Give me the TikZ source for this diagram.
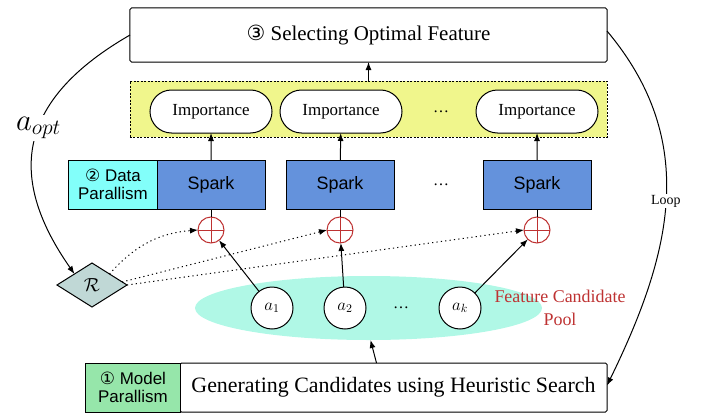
\documentclass[tikz,border=0pt]{standalone}
\usepackage{fix-cm}
\usepackage{fontspec}
\setmainfont{Liberation Serif}
\setsansfont{Liberation Sans}
\newfontfamily\circfont{DejaVu Sans}
\usetikzlibrary{arrows.meta}
\usetikzlibrary{positioning}
\usetikzlibrary{shapes.geometric}
\usetikzlibrary{shapes.misc}
\definecolor{yellowbg}{RGB}{240,246,140}
\definecolor{databg}{RGB}{130,255,250}
\definecolor{modelbg}{RGB}{150,230,170}
\definecolor{sparkbg}{RGB}{100,146,220}
\definecolor{poolbg}{RGB}{176,248,230}
\definecolor{rbg}{RGB}{192,216,214}
\definecolor{plusred}{RGB}{190,50,50}

\begin{document}
\begin{tikzpicture}[x=1bp,y=1bp,line width=1bp]
    \tikzset{
      >={Latex[length=8bp,width=6bp]},
      every node/.style={inner sep=0pt, outer sep=0pt},
      box/.style={draw, rounded corners=1.5bp, fill=white},
      imp/.style={rounded rectangle, draw, fill=white, minimum width=122bp,
        minimum height=43bp, font=\fontsize{17}{20}\selectfont},
      spark/.style={draw, fill=sparkbg, minimum width=108bp, minimum height=49bp,
        font=\sffamily\fontsize{18}{20}\selectfont},
      tag/.style={draw, align=center, minimum height=49bp,
        font=\sffamily\fontsize{17}{18}\selectfont},
      plus/.style={circle, draw=plusred, minimum size=26bp,
        path picture={\draw[plusred] (path picture bounding box.north) -- (path picture bounding box.south)
          (path picture bounding box.west) -- (path picture bounding box.east);}},
      cand/.style={circle, draw, fill=white, minimum size=42bp, font=\fontsize{17}{17}\selectfont},
      dots/.style={font=\fontsize{16}{16}\selectfont},
      rlink/.style={->, dash pattern=on 1.2bp off 3.2bp},
    }
    \useasboundingbox (0,0) rectangle (708,414);

    \node[box, minimum width=477bp, minimum height=54bp, font=\fontsize{21}{24}\selectfont]
      (sel) at (368.5,379) {{\circfont ③} Selecting Optimal Feature};

    \node[draw, fill=yellowbg, dash pattern=on 2bp off 1.5bp, line width=0.6bp,
      minimum width=477bp, minimum height=56bp] (imps) at (368.5,305) {};
    \node[imp] (i1) at (211,302.5) {Importance};
    \node[imp, right=8bp of i1] (i2) {Importance};
    \node[dots] (idots) at (441,302.5) {\dots};
    \node[imp] (ik) at (537,302.5) {Importance};

    \node[spark] (s1) at (211,229.5) {Spark};
    \node[spark] (s2) at (340,229.5) {Spark};
    \node[dots] (sdots) at (441,229.5) {\dots};
    \node[spark] (sk) at (537,229.5) {Spark};
    \node[tag, fill=databg, minimum width=88bp, left=0pt of s1] (data) {{\circfont ②} Data\\Parallism};

    \node[plus, below=8bp of s1] (p1) {};
    \node[plus, below=8bp of s2] (p2) {};
    \node[plus, below=8bp of sk] (pk) {};

    \node[ellipse, fill=poolbg, minimum width=347bp, minimum height=64bp] (pool) at (368.5,106) {};
    \node[cand] (a1) at (272,106) {$a_1$};
    \node[cand] (a2) at (345,106) {$a_2$};
    \node[dots] (adots) at (401,106) {\dots};
    \node[cand] (ak) at (460,106) {$a_k$};
    \node[align=center, text=plusred, font=\fontsize{18}{23}\selectfont] (fcp) at (560,106)
      {Feature Candidate\\Pool};

    \node[diamond, draw, fill=rbg, minimum width=70bp, minimum height=44bp,
      font=\fontsize{19}{19}\selectfont] (R) at (92,129) {$\mathcal{R}$};

    \node[box, minimum width=427bp, minimum height=49bp, font=\fontsize{22}{24}\selectfont]
      (gen) at (393.5,26.5) {Generating Candidates using Heuristic Search};
    \node[tag, fill=modelbg, minimum width=94bp, left=0pt of gen] (model) {{\circfont ①} Model\\Parallism};

    \draw[->] (imps) -- (sel);
    \draw[->] (s1) -- (i1);
    \draw[->] (s2) -- (i2);
    \draw[->] (sk) -- (ik);
    \draw (s1) -- (p1) (s2) -- (p2) (sk) -- (pk);
    \draw[->] (a1) -- (p1);
    \draw[->] (a2) -- (p2);
    \draw[->] (ak) -- (pk);
    \draw[rlink] (R.north east) to[bend left=22] (p1.west);
    \draw[rlink] ([xshift=-5bp]R.east) ++(0,3) -- (p2.west);
    \draw[rlink] (R.east) -- (pk.west);
    \draw[->] ([xshift=-17bp]gen.north) -- ([xshift=2bp]pool.south);

    \draw[->] (sel.west) to[out=210, in=125, looseness=1.3]
      node[pos=0.45, fill=white, inner sep=2bp, font=\fontsize{31}{34}\selectfont] (aopt) {$a_{opt}$}
      (R.north west);
    \draw[->] ([yshift=4bp]sel.east) to[out=-50, in=64, looseness=1.05]
      node[fill=white, inner sep=1bp, font=\fontsize{14}{15}\selectfont] (loop) {Loop}
      ([yshift=2bp]gen.east);
\end{tikzpicture}
\end{document}
